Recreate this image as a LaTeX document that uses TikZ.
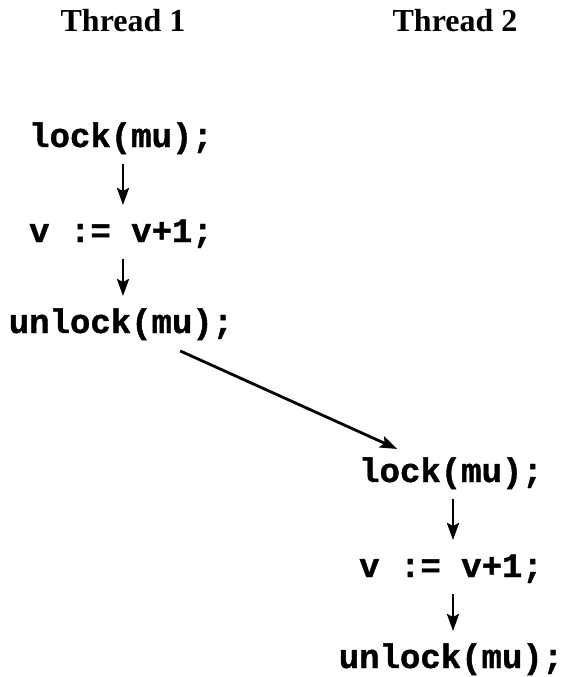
\documentclass[tikz,border=0pt]{standalone}
\usepackage{fontspec}
\setmainfont{Liberation Serif}
\setmonofont[BoldFeatures={FakeBold=1.2}]{Liberation Mono}
\usetikzlibrary{arrows.meta}
\begin{document}
\begin{tikzpicture}[x=1pt,y=-1pt,line width=2.8pt,
    head/.style={anchor=base,font=\fontsize{32}{36}\selectfont\bfseries},
    stmt/.style={anchor=base,font=\fontsize{34}{38}\selectfont\ttfamily\bfseries},
    order/.style={-{Stealth[length=17pt,width=12pt,inset=3pt]},shorten <=17pt,shorten >=37pt}]
  \useasboundingbox (0,0) rectangle (565,677);
  % threads
  \node [head] (Thread1) at (123,32) {Thread 1};
  \node [head] (Thread2) at (455,32) {Thread 2};
  % thread 1
  \node [stmt] (lock1) at (121,147) {lock(mu);};
  \node [stmt] (incr1) at (121,242) {v := v+1;};
  \node [stmt] (unlock1) at (121,333) {unlock(mu);};
  % thread 2
  \node [stmt] (lock2) at (451,482) {lock(mu);};
  \node [stmt] (incr2) at (451,577) {v := v+1;};
  \node [stmt] (unlock2) at (451,668) {unlock(mu);};
  \draw [order] ([xshift=2pt]lock1.base) -- ([xshift=2pt]incr1.base);
  \draw [order] ([xshift=2pt]incr1.base) -- ([xshift=2pt]unlock1.base);
  \draw [order] ([xshift=2pt]lock2.base) -- ([xshift=2pt]incr2.base);
  \draw [order] ([xshift=2pt]incr2.base) -- ([xshift=2pt]unlock2.base);
  % happens-before
  \draw [order,shorten <=65pt,shorten >=59pt] (unlock1.center) -- (lock2.center);
\end{tikzpicture}
\end{document}
